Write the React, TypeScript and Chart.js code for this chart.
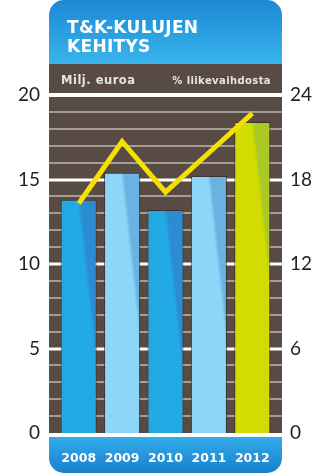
import React, { useEffect, useRef } from "react";
import { Chart, registerables } from "chart.js";

Chart.register(...registerables);

const years = ["2008", "2009", "2010", "2011", "2012"];
const rdCosts = [13.8, 15.4, 13.2, 15.2, 18.4]; // Milj. euroa (left axis)
const rdShare = [16.3, 20.7, 17.1, 19.9, 22.7]; // % liikevaihdosta (right axis)
const leftMax = 20;
const leftStep = 5;
const rightMax = 24;
const rightStep = 6;
const titleLines = ["T&K-KULUJEN", "KEHITYS"];
const leftUnit = "Milj. euroa";
const rightUnit = "% liikevaihdosta";

const barLight = ["#22aae4", "#8ed6f7", "#22aae4", "#8ed6f7", "#d2dc00"];
const barDark = ["#2b8cd2", "#6ab2e2", "#2b8cd2", "#6ab2e2", "#abc924"];

const BROWN = "#584b43";
const PANEL_L = 49;
const PANEL_R = 282;

const panelPlugin = {
  id: "panelPlugin",
  beforeDraw(chart: any) {
    const { ctx } = chart;
    const ys = chart.scales.y;
    const top = ys.getPixelForValue(leftMax);
    const bottom = ys.getPixelForValue(0);
    const w = PANEL_R - PANEL_L;
    ctx.save();
    ctx.fillStyle = "#ffffff";
    ctx.fillRect(0, 0, chart.width, chart.height);

    // header blue
    const g = ctx.createLinearGradient(0, 0, 0, 64);
    g.addColorStop(0, "#1b88d5");
    g.addColorStop(1, "#3ab5ec");
    ctx.fillStyle = g;
    ctx.beginPath();
    ctx.roundRect(PANEL_L, 0, w, 65, [15, 15, 0, 0]);
    ctx.fill();

    // unit band
    ctx.fillStyle = BROWN;
    ctx.fillRect(PANEL_L, 64, w, top - 2 - 64);
    // plot brown
    ctx.fillRect(PANEL_L, top + 2, w, bottom - top - 2);

    // bottom band
    const g2 = ctx.createLinearGradient(0, bottom + 4, 0, chart.height);
    g2.addColorStop(0, "#33ace9");
    g2.addColorStop(1, "#1a7fcf");
    ctx.fillStyle = g2;
    ctx.beginPath();
    ctx.roundRect(PANEL_L, bottom + 4, w, chart.height - bottom - 4, [0, 0, 15, 15]);
    ctx.fill();

    // header texts
    ctx.fillStyle = "#ffffff";
    ctx.textBaseline = "alphabetic";
    ctx.textAlign = "left";
    ctx.font = "bold 17px 'DejaVu Sans'";
    (ctx as any).letterSpacing = "0.3px";
    ctx.fillText(titleLines[0], 67, 33);
    ctx.fillText(titleLines[1], 67, 52);
    ctx.fillStyle = "#e8e4e0";
    ctx.font = "bold 11.5px 'DejaVu Sans'";
    (ctx as any).letterSpacing = "0.5px";
    ctx.fillText(leftUnit, 61, 84);
    ctx.textAlign = "right";
    ctx.font = "bold 10px 'DejaVu Sans'";
    (ctx as any).letterSpacing = "0.4px";
    ctx.fillText(rightUnit, 271, 84);
    (ctx as any).letterSpacing = "0px";
    ctx.restore();
  },
  beforeDatasetsDraw(chart: any) {
    const { ctx } = chart;
    const ys = chart.scales.y;
    ctx.save();
    for (let v = 1; v < leftMax; v++) {
      const py = Math.round(ys.getPixelForValue(v));
      const major = v % leftStep === 0;
      ctx.strokeStyle = major ? "#ffffff" : "#a59c95";
      ctx.lineWidth = major ? 3 : 2;
      ctx.beginPath();
      ctx.moveTo(PANEL_L, py);
      ctx.lineTo(PANEL_R, py);
      ctx.stroke();
    }
    ctx.restore();
  },
};

function barFill(light: string[], dark: string[]) {
  return (c: any) => {
    const chart = c.chart;
    const i = c.dataIndex;
    const xs = chart.scales.x;
    const ys = chart.scales.y;
    if (!xs || !ys || i === undefined) return light[0];
    const x = xs.getPixelForValue(i);
    const top = ys.getPixelForValue(rdCosts[i]);
    if (!isFinite(x) || !isFinite(top)) return light[i];
    const bx = x;
    const g = chart.ctx.createLinearGradient(bx - 10, top + 1.1, bx + 10, top - 1.1);
    g.addColorStop(0, light[i]);
    g.addColorStop(0.42, light[i]);
    g.addColorStop(0.6, dark[i]);
    g.addColorStop(1, dark[i]);
    return g;
  };
}

export default function App() {
  const ref = useRef<HTMLCanvasElement | null>(null);

  useEffect(() => {
    document.body.style.margin = "0";
    const canvas = ref.current;
    if (!canvas) return;
    const chart = new Chart(canvas, {
      type: "bar",
      data: {
        labels: years,
        datasets: [
          {
            type: "line",
            label: rightUnit,
            data: rdShare,
            yAxisID: "y1",
            borderColor: "#f6e000",
            borderWidth: 5,
            pointRadius: 0,
            tension: 0,
            fill: false,
            order: 0,
            borderCapStyle: "butt",
            borderJoinStyle: "miter",
          } as any,
          {
            type: "bar",
            label: leftUnit,
            data: rdCosts,
            yAxisID: "y",
            backgroundColor: barFill(barLight, barDark),
            borderColor: "rgba(45,40,38,0.7)",
            borderWidth: 1,
            borderSkipped: "bottom",
            barPercentage: 0.83,
            categoryPercentage: 1,
            order: 1,
          } as any,
        ],
      },
      options: {
        responsive: false,
        animation: false,
        events: [],
        layout: { padding: { top: 95, bottom: 0, left: 0, right: 0 } },
        plugins: {
          legend: { display: false },
          tooltip: { enabled: false },
          title: { display: false },
        },
        scales: {
          x: {
            type: "category",
            grid: { display: false, drawTicks: false },
            border: { display: false },
            ticks: {
              color: "#ffffff",
              font: { family: "'DejaVu Sans'", size: 12.5, weight: "bold" },
              padding: 18,
              maxRotation: 0,
              autoSkip: false,
            },
            afterFit: (s: any) => {
              s.height = 40;
            },
          },
          y: {
            position: "left",
            min: 0,
            max: leftMax,
            grid: { display: false, drawTicks: false },
            border: { display: false },
            ticks: {
              stepSize: leftStep,
              color: "#231f20",
              font: { family: "Lato", size: 19 },
              padding: 17,
            },
            afterFit: (s: any) => {
              s.width = 57;
            },
          },
          y1: {
            position: "right",
            min: 0,
            max: rightMax,
            grid: { display: false, drawTicks: false },
            border: { display: false },
            ticks: {
              stepSize: rightStep,
              color: "#231f20",
              font: { family: "Lato", size: 19 },
              padding: 16,
            },
            afterFit: (s: any) => {
              s.width = 44;
            },
          },
        },
      },
      plugins: [panelPlugin],
    });
    return () => chart.destroy();
  }, []);

  return (
    <div style={{ position: "relative", width: 318, height: 473 }}>
      <canvas ref={ref} width={318} height={473} style={{ display: "block" }} />
    </div>
  );
}
